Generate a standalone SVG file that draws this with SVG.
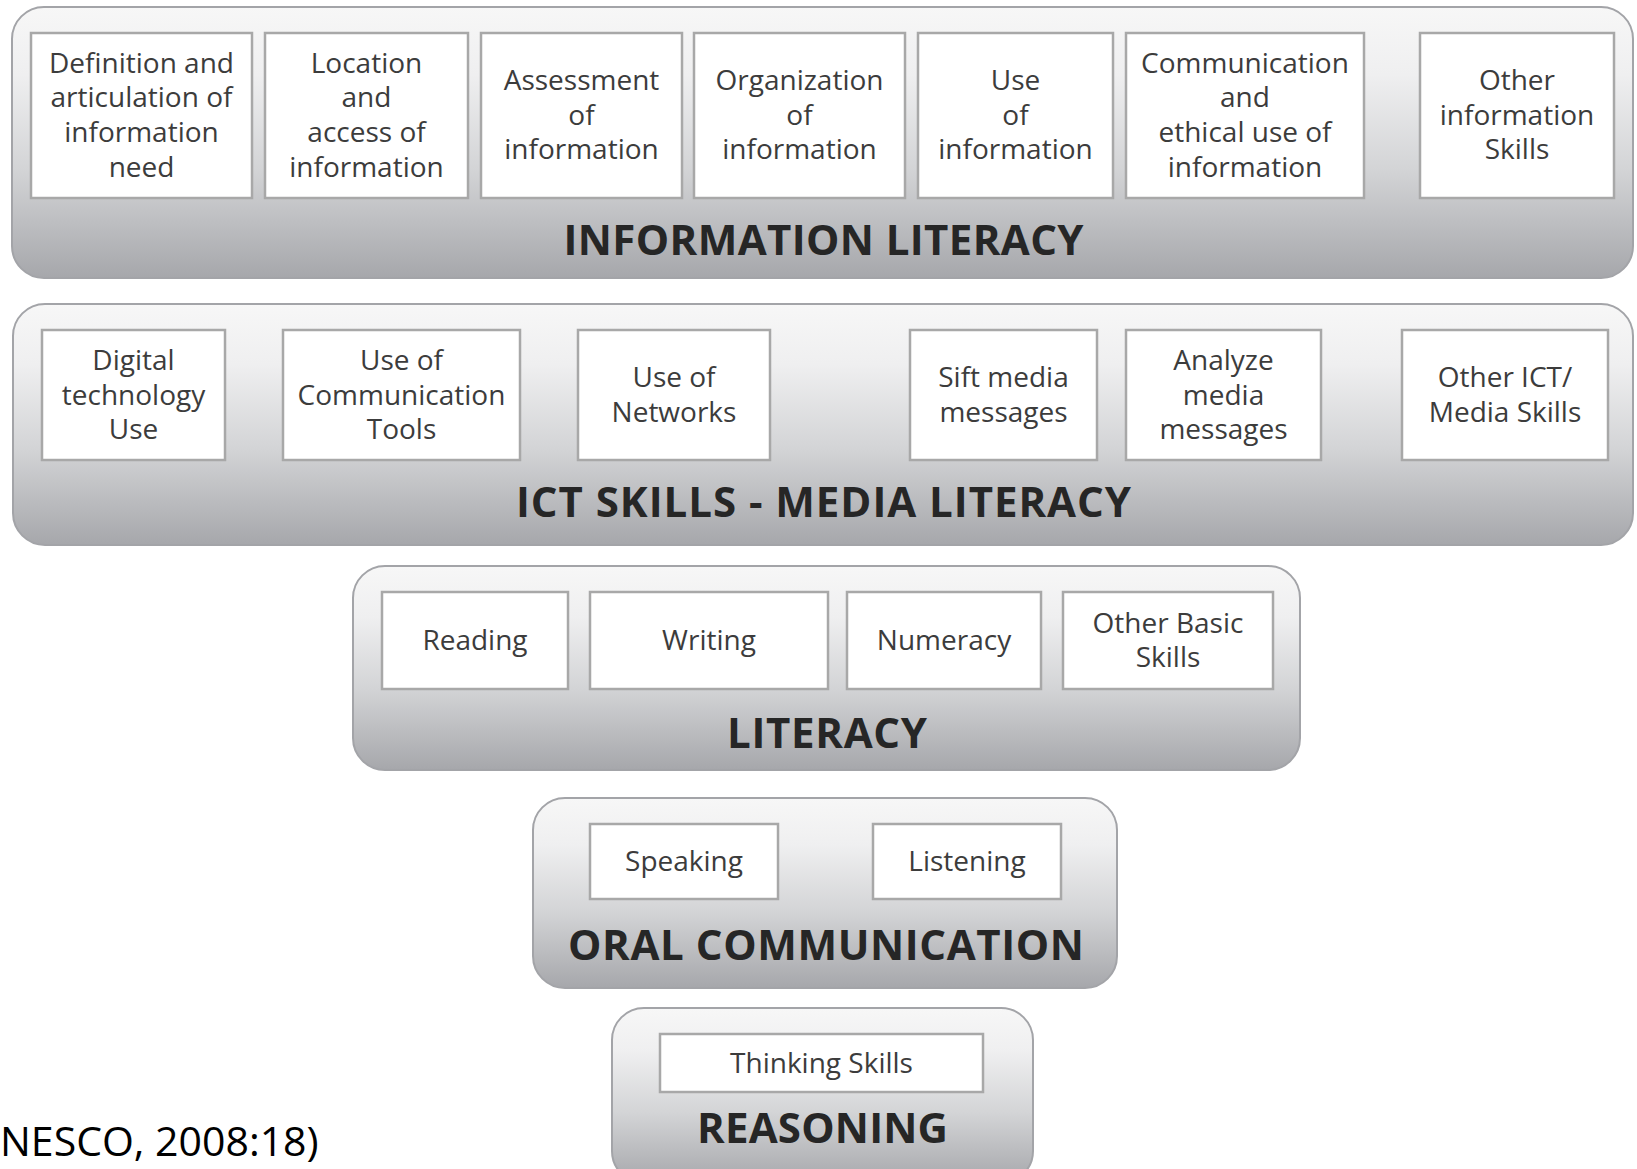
<svg xmlns="http://www.w3.org/2000/svg" width="1637" height="1169" viewBox="0 0 1637 1169">
  <defs>
    <linearGradient id="panelGrad" x1="0" y1="0" x2="0" y2="1">
      <stop offset="0" stop-color="#f7f7f7"/>
      <stop offset="0.25" stop-color="#efeff0"/>
      <stop offset="0.6" stop-color="#d3d4d6"/>
      <stop offset="1" stop-color="#a6a7ab"/>
    </linearGradient>
    <style>
      .panel { fill: url(#panelGrad); stroke: #a3a4a8; stroke-width: 2; }
      .box { fill: #ffffff; stroke: #a8a8a8; stroke-width: 2.5; }
      .bt { font-family: "Open Sans", "Noto Sans", "Liberation Sans", sans-serif; font-size: 28px; fill: #3c3c3c; text-anchor: middle; }
      .title { font-family: "Open Sans", "Noto Sans", "Liberation Sans", sans-serif; font-weight: bold; font-size: 42px; fill: #262626; text-anchor: middle; }
      .src { font-family: "Open Sans", "Noto Sans", "Liberation Sans", sans-serif; font-size: 41px; fill: #000000; }
    </style>
  </defs>
  <rect width="1637" height="1169" fill="#ffffff"/>

  <!-- INFORMATION LITERACY -->
  <g id="information-literacy">
    <rect class="panel" x="12" y="7" width="1621" height="271" rx="32" ry="32"/>
    <text class="title" x="823.5" y="255" textLength="520" lengthAdjust="spacing">INFORMATION LITERACY</text>
  </g>
  <g id="il-definition">
    <rect class="box" x="31" y="33" width="221" height="165"/>
    <text class="bt" x="141.5" y="72.5">Definition and</text>
    <text class="bt" x="141.5" y="107.2">articulation of</text>
    <text class="bt" x="141.5" y="141.8">information</text>
    <text class="bt" x="141.5" y="176.5">need</text>
  </g>
  <g id="il-location">
    <rect class="box" x="265" y="33" width="203" height="165"/>
    <text class="bt" x="366.5" y="72.5">Location</text>
    <text class="bt" x="366.5" y="107.2">and</text>
    <text class="bt" x="366.5" y="141.8">access of</text>
    <text class="bt" x="366.5" y="176.5">information</text>
  </g>
  <g id="il-assessment">
    <rect class="box" x="481" y="33" width="201" height="165"/>
    <text class="bt" x="581.5" y="89.8">Assessment</text>
    <text class="bt" x="581.5" y="124.5">of</text>
    <text class="bt" x="581.5" y="159.2">information</text>
  </g>
  <g id="il-organization">
    <rect class="box" x="694" y="33" width="211" height="165"/>
    <text class="bt" x="799.5" y="89.8">Organization</text>
    <text class="bt" x="799.5" y="124.5">of</text>
    <text class="bt" x="799.5" y="159.2">information</text>
  </g>
  <g id="il-use">
    <rect class="box" x="918" y="33" width="195" height="165"/>
    <text class="bt" x="1015.5" y="89.8">Use</text>
    <text class="bt" x="1015.5" y="124.5">of</text>
    <text class="bt" x="1015.5" y="159.2">information</text>
  </g>
  <g id="il-communication">
    <rect class="box" x="1126" y="33" width="238" height="165"/>
    <text class="bt" x="1245" y="72.5">Communication</text>
    <text class="bt" x="1245" y="107.2">and</text>
    <text class="bt" x="1245" y="141.8">ethical use of</text>
    <text class="bt" x="1245" y="176.5">information</text>
  </g>
  <g id="il-other">
    <rect class="box" x="1420" y="33" width="194" height="165"/>
    <text class="bt" x="1517" y="89.8">Other</text>
    <text class="bt" x="1517" y="124.5">information</text>
    <text class="bt" x="1517" y="159.2">Skills</text>
  </g>

  <!-- ICT SKILLS - MEDIA LITERACY -->
  <g id="ict-media-literacy">
    <rect class="panel" x="13" y="304" width="1620" height="241" rx="32" ry="32"/>
    <text class="title" x="823.5" y="517" textLength="615" lengthAdjust="spacing">ICT SKILLS - MEDIA LITERACY</text>
  </g>
  <g id="ict-digital">
    <rect class="box" x="42" y="330" width="183" height="130"/>
    <text class="bt" x="133.5" y="370">Digital</text>
    <text class="bt" x="133.5" y="404.5">technology</text>
    <text class="bt" x="133.5" y="439">Use</text>
  </g>
  <g id="ict-communication-tools">
    <rect class="box" x="283" y="330" width="237" height="130"/>
    <text class="bt" x="401.5" y="370">Use of</text>
    <text class="bt" x="401.5" y="404.5">Communication</text>
    <text class="bt" x="401.5" y="439">Tools</text>
  </g>
  <g id="ict-networks">
    <rect class="box" x="578" y="330" width="192" height="130"/>
    <text class="bt" x="674" y="387.3">Use of</text>
    <text class="bt" x="674" y="421.8">Networks</text>
  </g>
  <g id="ict-sift">
    <rect class="box" x="910" y="330" width="187" height="130"/>
    <text class="bt" x="1003.5" y="387.3">Sift media</text>
    <text class="bt" x="1003.5" y="421.8">messages</text>
  </g>
  <g id="ict-analyze">
    <rect class="box" x="1126" y="330" width="195" height="130"/>
    <text class="bt" x="1223.5" y="370">Analyze</text>
    <text class="bt" x="1223.5" y="404.5">media</text>
    <text class="bt" x="1223.5" y="439">messages</text>
  </g>
  <g id="ict-other">
    <rect class="box" x="1402" y="330" width="206" height="130"/>
    <text class="bt" x="1505" y="387.3">Other ICT/</text>
    <text class="bt" x="1505" y="421.8">Media Skills</text>
  </g>

  <!-- LITERACY -->
  <g id="literacy">
    <rect class="panel" x="353" y="566" width="947" height="204" rx="32" ry="32"/>
    <text class="title" x="827" y="748" textLength="200" lengthAdjust="spacing">LITERACY</text>
  </g>
  <g id="lit-reading">
    <rect class="box" x="382" y="592" width="186" height="97"/>
    <text class="bt" x="475" y="650">Reading</text>
  </g>
  <g id="lit-writing">
    <rect class="box" x="590" y="592" width="238" height="97"/>
    <text class="bt" x="709" y="650">Writing</text>
  </g>
  <g id="lit-numeracy">
    <rect class="box" x="847" y="592" width="194" height="97"/>
    <text class="bt" x="944" y="650">Numeracy</text>
  </g>
  <g id="lit-other">
    <rect class="box" x="1063" y="592" width="210" height="97"/>
    <text class="bt" x="1168" y="632.8">Other Basic</text>
    <text class="bt" x="1168" y="667.3">Skills</text>
  </g>

  <!-- ORAL COMMUNICATION -->
  <g id="oral-communication">
    <rect class="panel" x="533" y="798" width="584" height="190" rx="32" ry="32"/>
    <text class="title" x="826" y="960" textLength="516" lengthAdjust="spacing">ORAL COMMUNICATION</text>
  </g>
  <g id="oral-speaking">
    <rect class="box" x="590" y="824" width="188" height="75"/>
    <text class="bt" x="684" y="871">Speaking</text>
  </g>
  <g id="oral-listening">
    <rect class="box" x="873" y="824" width="188" height="75"/>
    <text class="bt" x="967" y="871">Listening</text>
  </g>

  <!-- REASONING -->
  <g id="reasoning">
    <rect class="panel" x="612" y="1008" width="421" height="175" rx="32" ry="32"/>
    <text class="title" x="822.5" y="1143" textLength="251" lengthAdjust="spacing">REASONING</text>
  </g>
  <g id="reas-thinking">
    <rect class="box" x="660" y="1034" width="323" height="58"/>
    <text class="bt" x="821.5" y="1073">Thinking Skills</text>
  </g>

  <g id="connectors"></g>

  <text class="src" x="0" y="1156">NESCO, 2008:18)</text>
</svg>
